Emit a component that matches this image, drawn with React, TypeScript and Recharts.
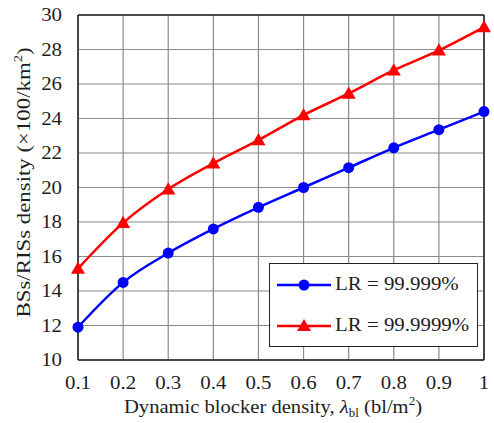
import React from 'react';
import {
  LineChart,
  Line,
  XAxis,
  YAxis,
  CartesianGrid,
  ReferenceLine,
  Label,
} from 'recharts';

// blocker density (bl/m^2)
const densities = [0.1, 0.2, 0.3, 0.4, 0.5, 0.6, 0.7, 0.8, 0.9, 1];
// required BS/RIS density (x100/km^2) per link reliability target
const lr99999 = [11.9, 14.5, 16.2, 17.6, 18.85, 20.0, 21.15, 22.3, 23.35, 24.4];
const lr999999 = [15.3, 17.95, 19.9, 21.4, 22.75, 24.2, 25.45, 26.8, 27.95, 29.3];

const xTicks = [0.1, 0.2, 0.3, 0.4, 0.5, 0.6, 0.7, 0.8, 0.9, 1];
const yTicks = [10, 12, 14, 16, 18, 20, 22, 24, 26, 28, 30];

const seriesNames = ['LR = 99.999%', 'LR = 99.9999%'];

const data = densities.map((d, i) => ({ d, a: lr99999[i], b: lr999999[i] }));

const FONT = '"Liberation Serif", "Times New Roman", serif';
const INK = '#1e1e1e';
const BLUE = '#0000ff';
const RED = '#ff0000';
// text in this figure is slightly wider than plain Times
const STRETCH = 1.16;

const Triangle = (props: any) => {
  const { cx, cy, fill } = props;
  if (cx == null || cy == null) return null;
  const s = 7;
  return (
    <path
      d={`M${cx},${cy - s} L${cx + s},${cy + s * 0.75} L${cx - s},${cy + s * 0.75} Z`}
      fill={fill}
    />
  );
};

const XTick = (props: any) => {
  const { x, y, payload } = props;
  const v = payload.value as number;
  return (
    <text
      transform={`translate(${x},${y}) scale(${STRETCH},1)`}
      textAnchor="middle"
      dy="0.71em"
      fontFamily={FONT}
      fontSize={18}
      fill={INK}
    >
      {v === 1 ? '1' : v.toFixed(1)}
    </text>
  );
};

const YTick = (props: any) => {
  const { x, y, payload } = props;
  return (
    <text
      transform={`translate(${x},${y}) scale(${STRETCH},1)`}
      textAnchor="end"
      dy="0.35em"
      fontFamily={FONT}
      fontSize={18}
      fill={INK}
    >
      {payload.value}
    </text>
  );
};

// legend drawn as a plain box on top of the plot area
const LegendBox = () => (
  <div
    style={{
      position: 'absolute',
      left: 269,
      top: 263,
      width: 209,
      height: 84,
      border: '1.5px solid #222',
      background: '#fff',
      fontFamily: FONT,
      fontSize: 18,
      color: INK,
      boxSizing: 'border-box',
    }}
  >
    {seriesNames.map((name, i) => (
      <div key={name} style={{ display: 'flex', alignItems: 'center', height: 41, paddingLeft: 7 }}>
        <svg width={54} height={16}>
          <line x1={0} y1={8} x2={54} y2={8} stroke={i === 0 ? BLUE : RED} strokeWidth={2.5} />
          {i === 0 ? (
            <circle cx={27} cy={8} r={5.5} fill={BLUE} />
          ) : (
            <path d="M27,1 L34,13 L20,13 Z" fill={RED} />
          )}
        </svg>
        <span
          style={{
            marginLeft: 4,
            display: 'inline-block',
            transform: `scaleX(${STRETCH})`,
            transformOrigin: 'left center',
            whiteSpace: 'nowrap',
          }}
        >
          {name}
        </span>
      </div>
    ))}
  </div>
);

const XTitle = (props: any) => {
  const { viewBox } = props;
  const cx = viewBox.x + viewBox.width / 2 - 8;
  return (
    <text
      x={cx}
      y={413}
      textAnchor="middle"
      fontFamily={FONT}
      fontSize={19}
      fill={INK}
      textLength={298}
      lengthAdjust="spacingAndGlyphs"
    >
      <tspan>Dynamic blocker density, </tspan>
      <tspan fontStyle="italic">λ</tspan>
      <tspan fontSize={12} dy={4}>bl</tspan>
      <tspan dy={-4}> (bl/m</tspan>
      <tspan fontSize={12} dy={-8}>2</tspan>
      <tspan dy={8}>)</tspan>
    </text>
  );
};

const YTitle = (props: any) => {
  const { viewBox } = props;
  const cy = viewBox.y + viewBox.height / 2 - 5;
  const x = 30;
  return (
    <text
      x={x}
      y={cy}
      textAnchor="middle"
      fontFamily={FONT}
      fontSize={19}
      fill={INK}
      transform={`rotate(-90, ${x}, ${cy})`}
      textLength={270}
      lengthAdjust="spacingAndGlyphs"
    >
      <tspan>BSs/RISs density (×100/km</tspan>
      <tspan fontSize={12} dy={-8}>2</tspan>
      <tspan dy={8}>)</tspan>
    </text>
  );
};

export default function App() {
  return (
    <div style={{ position: 'absolute', left: 0, top: 0, width: 494, height: 423, background: '#fff' }}>
      <LineChart
        width={494}
        height={423}
        data={data}
        margin={{ top: 15, right: 10, bottom: 0, left: 0 }}
        style={{ fontFamily: FONT }}
      >
        <CartesianGrid stroke="#8a8a8a" strokeWidth={1.2} />
        <XAxis
          dataKey="d"
          type="number"
          domain={[0.1, 1]}
          ticks={xTicks}
          tickLine={false}
          tickSize={0}
          tickMargin={16}
          height={63}
          axisLine={{ stroke: '#222', strokeWidth: 1.5 }}
          tick={<XTick />}
        >
          <Label content={<XTitle />} />
        </XAxis>
        <YAxis
          type="number"
          domain={[10, 30]}
          ticks={yTicks}
          tickLine={false}
          tickSize={0}
          tickMargin={16}
          width={78}
          axisLine={{ stroke: '#222', strokeWidth: 1.5 }}
          tick={<YTick />}
        >
          <Label content={<YTitle />} />
        </YAxis>
        <ReferenceLine y={30} stroke="#222" strokeWidth={1.5} />
        <ReferenceLine x={1} stroke="#222" strokeWidth={1.5} />
        <Line
          type="monotone"
          dataKey="a"
          name={seriesNames[0]}
          stroke={BLUE}
          strokeWidth={2.5}
          dot={{ r: 5.5, fill: BLUE, stroke: BLUE, strokeWidth: 0 }}
          isAnimationActive={false}
        />
        <Line
          type="monotone"
          dataKey="b"
          name={seriesNames[1]}
          stroke={RED}
          strokeWidth={2.5}
          dot={(p: any) => <Triangle key={`t-${p.index}`} {...p} fill={RED} />}
          isAnimationActive={false}
        />
      </LineChart>
      <LegendBox />
    </div>
  );
}
